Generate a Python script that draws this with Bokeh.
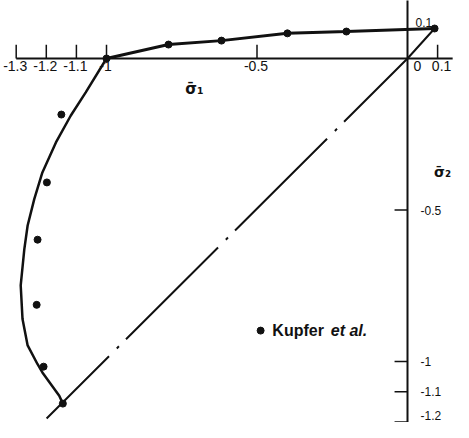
from bokeh.plotting import figure
from bokeh.models import Range1d
from bokeh.embed import file_html
from bokeh.resources import INLINE
from bokeh.core.properties import value

# ---- data ----
# Kupfer et al. test points, tension-compression branch
tc_sigma1 = [-1.0, -0.794, -0.618, -0.399, -0.203, 0.090]
tc_sigma2 = [0.0, 0.046, 0.059, 0.083, 0.089, 0.099]
# Kupfer et al. test points, biaxial compression branch
cc_sigma1 = [-1.150, -1.198, -1.229, -1.232, -1.209, -1.145]
cc_sigma2 = [-0.185, -0.409, -0.598, -0.813, -1.017, -1.139]
# fitted envelope, biaxial compression branch
env_sigma1 = [-1.0, -1.069, -1.119, -1.168, -1.213, -1.240, -1.262, -1.273,
              -1.285, -1.279, -1.262, -1.229, -1.213, -1.157, -1.145]
env_sigma2 = [0.0, -0.112, -0.189, -0.277, -0.376, -0.464, -0.551, -0.629,
              -0.749, -0.860, -0.947, -1.009, -1.036, -1.113, -1.139]
# equal biaxial stress line
diag_sigma1 = [0.090, 0.0, -1.199]
diag_sigma2 = [0.099, 0.0, -1.188]

# axes
x_axis_span = [-1.3, 0.15]
y_axis_span = [0.20, -1.2]
x_ticks = [-1.3, -1.2, -1.1, -1.0, -0.5]
x_tick_labels = ["-1.3", "-1.2", "-1.1", "-1", "-0.5"]
x_tick_right = [0.1]
x_tick_right_label = ["0.1"]
y_ticks = [-0.5, -1.0, -1.1]
y_tick_labels = ["-0.5", "-1", "-1.1"]
y_tick_last = [-1.2]
y_tick_last_label = ["-1.2"]
y_top_tick = [0.1]
y_top_label = ["0.1"]
origin_label = ["0"]

INK = "#111111"
FONT = value("Liberation Sans")

p = figure(width=453, height=422,
           x_range=Range1d(-1.35216, 0.15282),
           y_range=Range1d(-1.20132, 0.19142),
           output_backend="svg", toolbar_location=None,
           x_axis_location=None, y_axis_location=None,
           min_border=0, outline_line_color=None)
p.grid.visible = False
p.background_fill_color = "white"
p.border_fill_color = "white"

# axis lines
p.line(x_axis_span, [0, 0], line_color=INK, line_width=2)
p.line([0, 0], y_axis_span, line_color=INK, line_width=2)

# x ticks (pointing up)
xt_len = 0.045
all_xt = x_ticks + x_tick_right
p.segment(x0=all_xt, y0=[0] * len(all_xt), x1=all_xt, y1=[xt_len] * len(all_xt),
          line_color=INK, line_width=1.5)
# y ticks (pointing left)
yt_len = 0.043
all_yt = y_ticks + y_tick_last
p.segment(x0=[0] * len(all_yt), y0=all_yt, x1=[-yt_len] * len(all_yt), y1=all_yt,
          line_color=INK, line_width=1.5)

# tick labels
p.text(x=x_ticks, y=[0] * len(x_ticks), text=x_tick_labels,
       text_align="center", text_baseline="top", x_offset=-1, y_offset=2,
       text_font=FONT, text_font_size="14px", text_color=INK)
p.text(x=x_tick_right, y=[0], text=x_tick_right_label,
       text_align="center", text_baseline="top", x_offset=4, y_offset=2,
       text_font=FONT, text_font_size="14px", text_color=INK)
p.text(x=[0], y=[0], text=origin_label,
       text_align="center", text_baseline="top", x_offset=10, y_offset=2,
       text_font=FONT, text_font_size="14px", text_color=INK)
p.text(x=[0] * len(y_ticks), y=y_ticks, text=y_tick_labels,
       text_align="left", text_baseline="middle", x_offset=13, y_offset=0,
       text_font=FONT, text_font_size="12px", text_color=INK)
p.text(x=[0], y=y_tick_last, text=y_tick_last_label,
       text_align="left", text_baseline="bottom", x_offset=13, y_offset=-2,
       text_font=FONT, text_font_size="12px", text_color=INK)
p.text(x=[0], y=y_top_tick, text=y_top_label,
       text_align="left", text_baseline="middle", x_offset=8, y_offset=-6,
       text_font=FONT, text_font_size="12px", text_color=INK)

# axis titles
p.text(x=[-0.708], y=[-0.102], text=["σ̄₁"], text_align="center",
       text_baseline="middle", text_font=value("DejaVu Sans"),
       text_font_size="15px", text_font_style="bold", text_color=INK)
p.text(x=[0.088], y=[-0.376], text=["σ̄₂"], text_align="left",
       text_baseline="middle", text_font=value("DejaVu Sans"),
       text_font_size="14px", text_font_style="bold", text_color=INK)

# equal biaxial line (dash-dot)
p.line(diag_sigma1, diag_sigma2, line_color=INK, line_width=2,
       line_dash="130 10 3 11")

# envelope curves
p.line(tc_sigma1, tc_sigma2, line_color=INK, line_width=3)
p.line(env_sigma1, env_sigma2, line_color=INK, line_width=2.5)

# test points
p.scatter(tc_sigma1, tc_sigma2, size=7, marker="circle", color=INK)
p.scatter(cc_sigma1, cc_sigma2, size=7, marker="circle", color=INK)

# legend
p.scatter([-0.488], [-0.898], size=7, marker="circle", color=INK)
p.text(x=[-0.449], y=[-0.898], text=["Kupfer"], text_align="left",
       text_baseline="middle", text_font=FONT, text_font_size="16px",
       text_font_style="bold", text_color=INK)
p.text(x=[-0.255], y=[-0.898], text=["et al."], text_align="left",
       text_baseline="middle", text_font=FONT, text_font_size="16px",
       text_font_style="bold italic", text_color=INK)

open("out.html", "w").write(file_html(p, INLINE))
